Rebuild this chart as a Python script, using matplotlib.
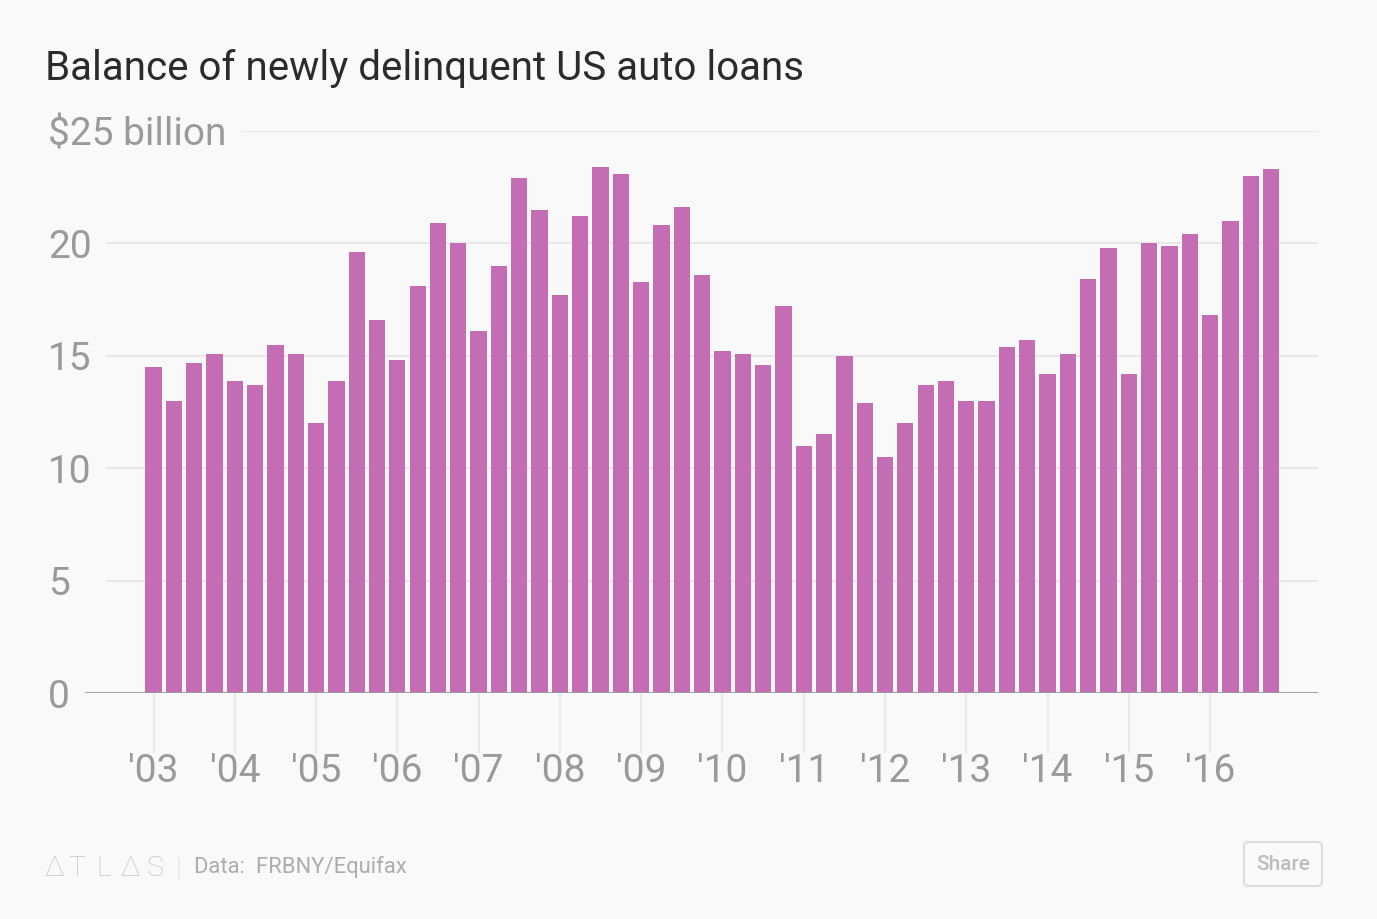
import matplotlib
matplotlib.use("Agg")
import matplotlib.pyplot as plt
from matplotlib.patches import FancyBboxPatch
from matplotlib.transforms import blended_transform_factory
import numpy as np

# ---- data ----
years = [f"'{y:02d}" for y in range(3, 17)]
quarters = [f"{2000 + y} Q{q}" for y in range(3, 17) for q in range(1, 5)]
balance = [
    14.5, 13.0, 14.7, 15.1,   # 2003
    13.9, 13.7, 15.5, 15.1,   # 2004
    12.0, 13.9, 19.6, 16.6,   # 2005
    14.8, 18.1, 20.9, 20.0,   # 2006
    16.1, 19.0, 22.9, 21.5,   # 2007
    17.7, 21.2, 23.4, 23.1,   # 2008
    18.3, 20.8, 21.6, 18.6,   # 2009
    15.2, 15.1, 14.6, 17.2,   # 2010
    11.0, 11.5, 15.0, 12.9,   # 2011
    10.5, 12.0, 13.7, 13.9,   # 2012
    13.0, 13.0, 15.4, 15.7,   # 2013
    14.2, 15.1, 18.4, 19.8,   # 2014
    14.2, 20.0, 19.9, 20.4,   # 2015
    16.8, 21.0, 23.0, 23.3,   # 2016
]
y_ticks = [0, 5, 10, 15, 20, 25]
y_labels = ["0", "5", "10", "15", "20", "$25 billion"]
title = "Balance of newly delinquent US auto loans"
source = "Data:  FRBNY/Equifax"
logo_letters = ["Δ", "T", "L", "Δ", "S"]

# ---- style ----
BG = "#f9f9f9"
BAR = "#c46db5"
GRID = "#e8e8e8"
LABEL = "#9a9a9a"
FONT = ["Roboto", "DejaVu Sans"]

W, H = 1377, 919
fig = plt.figure(figsize=(W / 100, H / 100), dpi=100, facecolor=BG)

left, right, bottom, top = 85, 1318, 693, 131
ax = fig.add_axes([left / W, 1 - bottom / H, (right - left) / W, (bottom - top) / H])
ax.set_facecolor(BG)

x = np.arange(len(balance))
ax.bar(x, balance, width=0.8, color=BAR, zorder=3)

spacing = 20.32
first_center = 153.5
ax.set_xlim((left - first_center) / spacing, (right - first_center) / spacing)
ax.set_ylim(0, 25)

for s in ax.spines.values():
    s.set_visible(False)

# horizontal grid lines
for t in y_ticks[1:]:
    start = 243 if t == 25 else 107
    ax.axhline(t, xmin=(start - left) / (right - left), xmax=1, color=GRID, lw=1.5, zorder=1)
ax.axhline(0, color="#9a9a9a", lw=2, zorder=4)

# y labels
ax.set_yticks([])
tr = blended_transform_factory(ax.transAxes, ax.transData)
for t, lab in zip(y_ticks, y_labels):
    ax.text((48 - left) / (right - left), t, lab, transform=tr, ha="left", va="center_baseline",
            fontsize=28, color=LABEL, family=FONT)

# x ticks
ax.set_xticks(np.arange(0, len(balance), 4))
ax.set_xticklabels(years, fontsize=28, color=LABEL, family=FONT)
ax.tick_params(axis="x", length=43, width=1.5, color=GRID, pad=0)

# title
fig.text(45 / W, 1 - 80 / H, title, ha="left", va="baseline", fontsize=29,
         color="#2b2b2b", family=FONT)

# footer logo
for px, ch in zip([44, 68, 96, 120, 147], logo_letters):
    fig.text(px / W, 1 - 876 / H, ch, ha="left", va="baseline", fontsize=20.5,
             color="#c6c6c6", family=FONT, fontweight="light")
fig.text(176 / W, 1 - 877 / H, "|", ha="left", va="baseline", fontsize=20,
         color="#dadada", family=FONT, fontweight="light")
fig.text(194 / W, 1 - 873 / H, source, ha="left", va="baseline", fontsize=15.8,
         color="#adadad", family=FONT)

# share button
btn = FancyBboxPatch((1244 / W, 1 - 886 / H), 78 / W, 44 / H,
                     boxstyle="round,pad=0,rounding_size=0.004",
                     transform=fig.transFigure, facecolor=BG, edgecolor="#dddddd", lw=1.5)
fig.add_artist(btn)
fig.text(1283 / W, 1 - 864 / H, "Share", ha="center", va="center", fontsize=15,
         color="#bdbdbd", family=FONT, fontweight="medium")

fig.savefig("out.png", dpi=100, facecolor=BG)
